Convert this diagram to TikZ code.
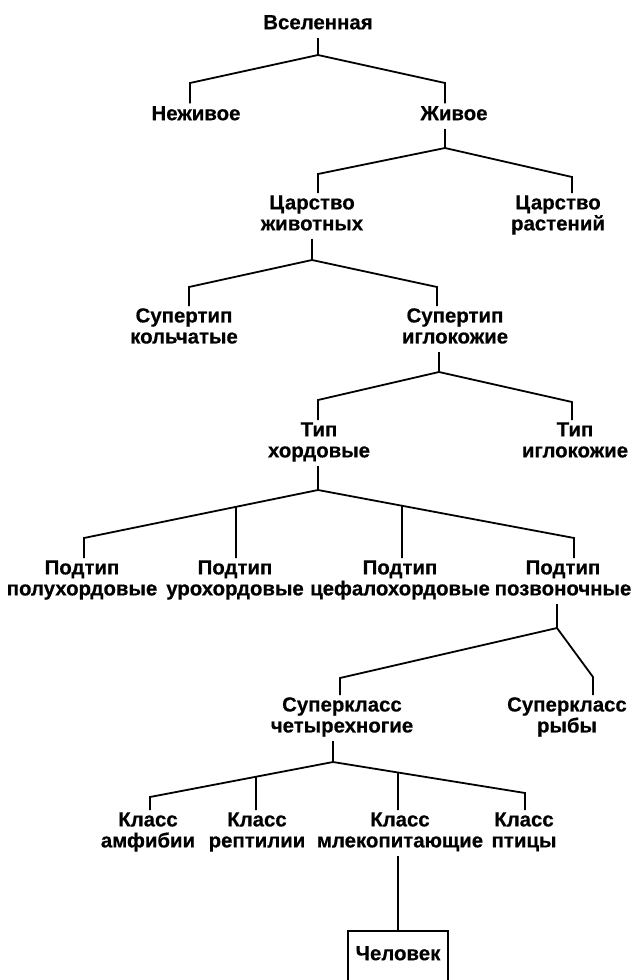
\documentclass[tikz,border=0pt]{standalone}
\usepackage{fontspec}
\setmainfont{Liberation Sans}[BoldFeatures={FakeBold=0.5}]
\usetikzlibrary{positioning}

\begin{document}
\begin{tikzpicture}[x=1pt,y=-1pt,
    lbl/.style={align=center,font=\bfseries\fontsize{20.4}{21}\selectfont,inner sep=2pt,
      execute at begin node=\strut,execute at end node=\strut},
    br/.style={line width=1.8pt}]
  \useasboundingbox (0,0) rectangle (634,980);

  \node[lbl] (all) at (318,25) {Вселенная};
  \node[lbl] (nezh) at (196,116) {Неживое};
  \node[lbl] (zhiv) at (454,116) {Живое};
  \node[lbl] (czhiv) at (312,216) {Царство\\животных};
  \node[lbl] (crast) at (558,216) {Царство\\растений};
  \node[lbl] (skolch) at (184,329) {Супертип\\кольчатые};
  \node[lbl] (sigl) at (455,329) {Супертип\\иглокожие};
  \node[lbl] (thord) at (319,443) {Тип\\хордовые};
  \node[lbl] (tigl) at (575,443) {Тип\\иглокожие};
  \node[lbl] (ppolu) at (82,581) {Подтип\\полухордовые};
  \node[lbl] (puro) at (235,581) {Подтип\\урохордовые};
  \node[lbl] (pcef) at (400,581) {Подтип\\цефалохордовые};
  \node[lbl] (ppozv) at (563,581) {Подтип\\позвоночные};
  \node[lbl] (schet) at (342,718) {Суперкласс\\четырехногие};
  \node[lbl] (sryb) at (567,718) {Суперкласс\\рыбы};
  \node[lbl] (kamf) at (148,833) {Класс\\амфибии};
  \node[lbl] (krep) at (257,833) {Класс\\рептилии};
  \node[lbl] (kmlek) at (400,833) {Класс\\млекопитающие};
  \node[lbl] (kptic) at (524,833) {Класс\\птицы};
  \node[lbl,minimum width=99pt,minimum height=50pt] (man) at (398,956) {Человек};

  % Вселенная
  \coordinate (j1) at (318,55);
  \draw[br] (j1 |- all.south) -- (j1);
  \draw[br] (nezh.north -| 190,0) -- (190,83) -- (j1) -- (445,83) -- (zhiv.north -| 445,0);
  % Живое
  \coordinate (j2) at (445,148);
  \draw[br] (j2 |- zhiv.south) -- (j2);
  \draw[br] (czhiv.north -| 318,0) -- (318,174) -- (j2) -- (572,177) -- (crast.north -| 572,0);
  % Царство животных
  \coordinate (j3) at (312,260);
  \draw[br] (j3 |- czhiv.south) -- (j3);
  \draw[br] (skolch.north -| 189,0) -- (189,287) -- (j3) -- (437,287) -- (sigl.north -| 437,0);
  % Супертип иглокожие
  \coordinate (j4) at (439,372);
  \draw[br] (j4 |- sigl.south) -- (j4);
  \draw[br] (thord.north -| 318,0) -- (318,400) -- (j4) -- (572,402) -- (tigl.north -| 572,0);
  % Тип хордовые
  \coordinate (j5) at (318,490);
  \draw[br] (j5 |- thord.south) -- (j5);
  \draw[br] (ppolu.north -| 84,0) -- (84,538) -- (j5) -- (574,538) -- (ppozv.north -| 574,0);
  \draw[br] (intersection of j5--84,538 and 236,0--236,1) -- (puro.north -| 236,0);
  \draw[br] (intersection of j5--574,538 and 402,0--402,1) -- (pcef.north -| 402,0);
  % Подтип позвоночные
  \coordinate (j6) at (557,628);
  \draw[br] (j6 |- ppozv.south) -- (j6);
  \draw[br] (schet.north -| 340,0) -- (340,678) -- (j6) -- (593,677) -- (sryb.north -| 593,0);
  % Суперкласс четырехногие
  \coordinate (j7) at (333,762);
  \draw[br] (j7 |- schet.south) -- (j7);
  \draw[br] (kamf.north -| 150,0) -- (150,797) -- (j7) -- (525,793) -- (kptic.north -| 525,0);
  \draw[br] (intersection of j7--150,797 and 256,0--256,1) -- (krep.north -| 256,0);
  \draw[br] (intersection of j7--525,793 and 398,0--398,1) -- (kmlek.north -| 398,0);
  % Класс млекопитающие
  \draw[br] (man.north |- kmlek.south) -- (man.north);
  \draw[br] ([yshift=-20pt]man.south west) -- (man.north west) -- (man.north east) -- ([yshift=-20pt]man.south east);
\end{tikzpicture}
\end{document}
